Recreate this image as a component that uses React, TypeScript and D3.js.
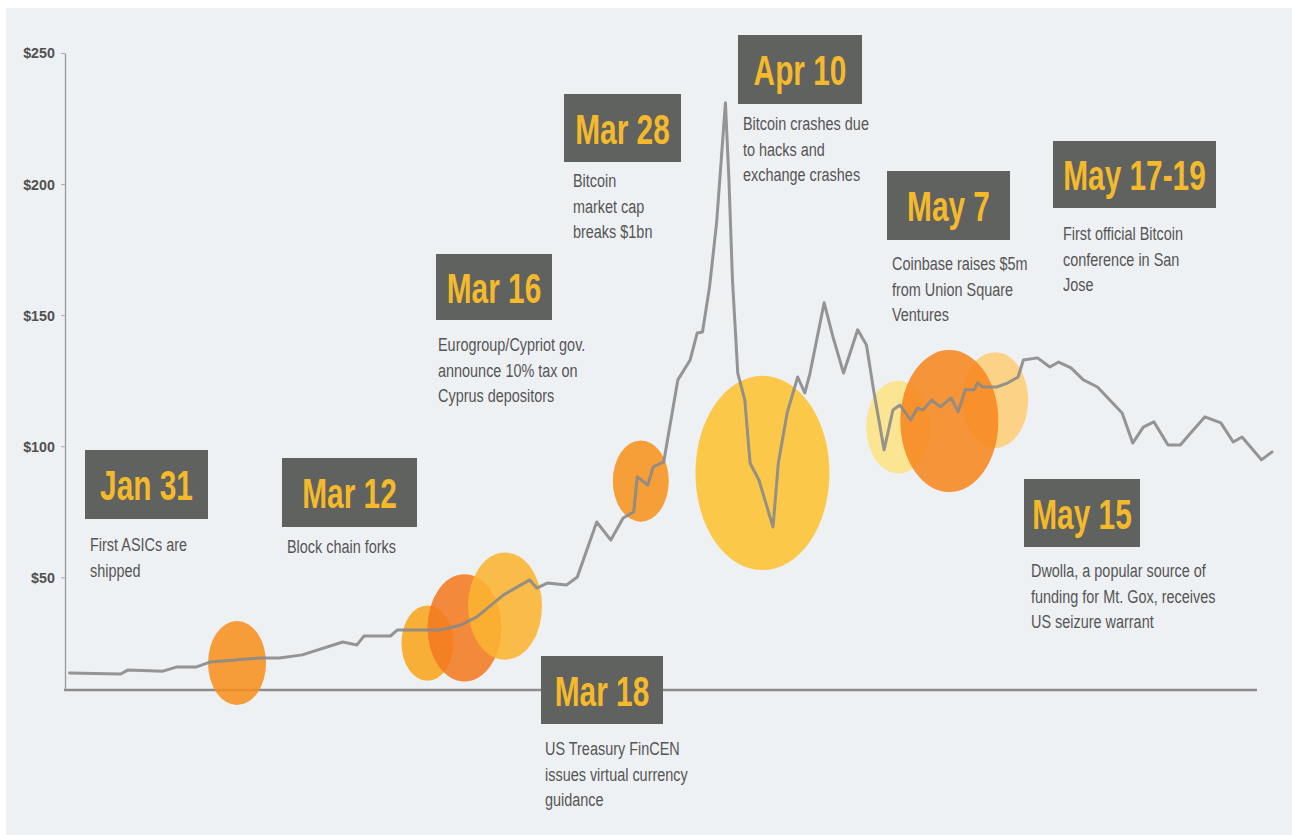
import React from "react";
import * as d3 from "d3";

// ---------- DATA ----------
const priceDates = [
  "2013-01-06T12:00", "2013-01-13T18:00", "2013-01-14T18:00", "2013-01-19T18:00", "2013-01-21T18:00",
  "2013-01-24T12:00", "2013-01-26T12:00", "2013-02-02T12:00", "2013-02-05T06:00", "2013-02-08T12:00",
  "2013-02-14T06:00", "2013-02-16T06:00", "2013-02-17T06:00", "2013-02-21T00:00", "2013-02-22T00:00",
  "2013-02-28T00:00", "2013-03-03T00:00", "2013-03-05T06:00", "2013-03-09T00:00", "2013-03-11T12:00",
  "2013-03-12T18:00", "2013-03-13T18:00", "2013-03-15T06:00", "2013-03-18T00:00", "2013-03-19T12:00",
  "2013-03-22T06:00", "2013-03-24T06:00", "2013-03-26T00:00", "2013-03-27T12:00", "2013-03-28T00:00",
  "2013-03-29T12:00", "2013-03-30T06:00", "2013-03-31T18:00", "2013-04-02T18:00", "2013-04-04T12:00",
  "2013-04-05T12:00", "2013-04-06T06:00", "2013-04-07T06:00", "2013-04-08T06:00", "2013-04-09T12:00",
  "2013-04-10T00:00", "2013-04-10T12:00", "2013-04-11T06:00", "2013-04-12T06:00", "2013-04-13T00:00",
  "2013-04-14T06:00", "2013-04-16T06:00", "2013-04-17T00:00", "2013-04-18T06:00", "2013-04-19T18:00",
  "2013-04-20T18:00", "2013-04-21T12:00", "2013-04-23T12:00", "2013-04-24T18:00", "2013-04-26T06:00",
  "2013-04-28T06:00", "2013-04-29T12:00", "2013-04-30T12:00", "2013-05-02T00:00", "2013-05-03T06:00",
  "2013-05-04T06:00", "2013-05-05T18:00", "2013-05-06T18:00", "2013-05-07T12:00", "2013-05-08T18:00",
  "2013-05-10T00:00", "2013-05-11T12:00", "2013-05-12T12:00", "2013-05-13T12:00", "2013-05-14T18:00",
  "2013-05-15T06:00", "2013-05-16T00:00", "2013-05-18T00:00", "2013-05-19T12:00", "2013-05-21T00:00",
  "2013-05-21T18:00", "2013-05-23T18:00", "2013-05-25T12:00", "2013-05-26T18:00", "2013-05-28T12:00",
  "2013-05-30T06:00", "2013-06-01T06:00", "2013-06-03T00:00", "2013-06-04T18:00", "2013-06-06T06:00",
  "2013-06-07T18:00", "2013-06-09T06:00", "2013-06-11T06:00", "2013-06-13T00:00", "2013-06-14T12:00",
  "2013-06-16T12:00", "2013-06-18T18:00", "2013-06-20T12:00", "2013-06-21T18:00", "2013-06-24T12:00",
  "2013-06-26T00:00",
];
const prices = [
  13.5, 13.1, 14.6, 14.2, 15.8,
  15.8, 17.7, 19.2, 19.2, 20.4,
  25.3, 24.2, 27.6, 27.6, 29.9,
  29.9, 31.8, 34.9, 43.2, 47.1,
  49.0, 45.9, 47.8, 47.1, 50.1,
  71.1, 64.2, 72.6, 74.9, 88.3,
  85.2, 92.1, 94.0, 125.3, 132.9,
  143.2, 143.6, 160.8, 185.2, 231.0,
  201.6, 163.4, 127.9, 117.6, 93.5,
  87.1, 69.2, 93.5, 112.7, 126.4,
  120.3, 127.9, 154.7, 141.7, 127.9,
  144.4, 138.6, 121.5, 98.6, 113.8,
  115.7, 110.0, 114.6, 113.8, 117.6,
  115.0, 118.4, 113.1, 121.5, 121.5,
  124.1, 122.6, 122.6, 124.1, 126.4,
  132.9, 133.7, 130.2, 132.1, 129.9,
  125.3, 122.6, 117.6, 112.7, 101.2,
  107.3, 109.3, 100.5, 100.5, 105.1,
  111.2, 108.9, 101.6, 103.5, 94.8,
  97.8,
];

const yTicks = [50, 100, 150, 200, 250];

const bubbleDates = [
  "2013-01-30T06:00", "2013-02-26T06:00", "2013-03-03T12:00", "2013-03-09T06:00",
  "2013-03-28T12:00", "2013-04-14T18:00", "2013-05-04T00:00", "2013-05-17T18:00", "2013-05-11T06:00",
];
const bubblePrices = [17.3, 24.9, 30.7, 39.0, 86.7, 89.8, 107.3, 117.6, 109.6];
const bubbleMagnitudes = [29, 26, 37, 37, 28, 67, 32, 33, 49];

const eventDates = ["Jan 31", "Mar 12", "Mar 16", "Mar 18", "Mar 28", "Apr 10", "May 7", "May 17-19", "May 15"];
const eventTexts = [
  ["First ASICs are", "shipped"],
  ["Block chain forks"],
  ["Eurogroup/Cypriot gov.", "announce 10% tax on", "Cyprus depositors"],
  ["US Treasury FinCEN", "issues virtual currency", "guidance"],
  ["Bitcoin", "market cap", "breaks $1bn"],
  ["Bitcoin crashes due", "to hacks and", "exchange crashes"],
  ["Coinbase raises $5m", "from Union Square", "Ventures"],
  ["First official Bitcoin", "conference in San", "Jose"],
  ["Dwolla, a popular source of", "funding for Mt. Gox, receives", "US seizure warrant"],
];

// ---------- LAYOUT / STYLE ----------
const W = 1292;
const H = 835;
const bubbleColors = ["#F7901E", "#F9A51E", "#F47A20", "#FCB431", "#F7921E", "#FDC231", "#FDE184", "#FDCD76", "#F7861F"];
const boxLayout = [
  { x: 85, y: 450, w: 123, h: 69, tx: 90, ty: 551 },
  { x: 282, y: 458, w: 135, h: 69, tx: 287, ty: 553 },
  { x: 436, y: 254, w: 116, h: 66, tx: 438, ty: 351 },
  { x: 541, y: 656, w: 122, h: 68, tx: 545, ty: 755 },
  { x: 564, y: 94, w: 117, h: 68, tx: 573, ty: 187 },
  { x: 738, y: 35, w: 124, h: 69, tx: 743, ty: 130 },
  { x: 887, y: 171, w: 123, h: 69, tx: 892, ty: 270 },
  { x: 1053, y: 141, w: 163, h: 67, tx: 1063, ty: 240 },
  { x: 1024, y: 479, w: 116, h: 68, tx: 1031, ty: 577 },
];
const FONT = "'Liberation Sans', Arial, Helvetica, sans-serif";

export default function App() {
  const parse = d3.timeParse("%Y-%m-%dT%H:%M");
  const x = d3
    .scaleTime()
    .domain([parse("2013-01-06T00:00")!, parse("2013-06-26T00:00")!])
    .range([66, 1272]);
  const y = d3.scaleLinear().domain([7, 250]).range([690, 53]);
  const rScale = d3.scaleLinear().domain([0, 1]).range([0, 1]);
  const ASPECT = 1.45;

  const series = priceDates.map((d, i) => ({ date: parse(d)!, price: prices[i] }));
  const line = d3
    .line<{ date: Date; price: number }>()
    .x((d) => x(d.date))
    .y((d) => y(d.price));

  const bubbles = bubbleDates.map((d, i) => ({
    cx: x(parse(d)!),
    cy: y(bubblePrices[i]),
    r: rScale(bubbleMagnitudes[i]),
    color: bubbleColors[i],
  }));

  const axisRef = React.useRef<SVGGElement>(null);
  React.useEffect(() => {
    if (!axisRef.current) return;
    const g = d3.select(axisRef.current);
    g.selectAll("*").remove();
    g.call(
      d3
        .axisLeft(y)
        .tickValues(yTicks)
        .tickSize(4)
        .tickSizeOuter(0)
        .tickPadding(6)
        .tickFormat((d) => `$${d}`)
    );
    g.select(".domain").attr("stroke", "#9a9a9a").attr("stroke-width", 1.3);
    g.selectAll(".tick line").attr("stroke", "#aaa");
    g.selectAll(".tick text")
      .attr("fill", "#505050")
      .attr("font-size", 15.5)
      .attr("font-weight", 700)
      .attr("font-family", FONT)
      .attr("transform", "scale(0.92,1)")
      .attr("x", -11);
  }, []);

  return (
    <svg
      width={W}
      height={H}
      style={{ position: "fixed", left: 0, top: 0, background: "#ffffff" }}
      fontFamily={FONT}
    >
      <rect x={6} y={8} width={W - 6} height={H - 8} fill="#EEF1F4" />

      <g ref={axisRef} transform="translate(65,0)" />
      <line x1={64} x2={1257} y1={690} y2={690} stroke="#8c8c8c" strokeWidth={2.5} />

      {bubbles.map((b, i) => (
        <ellipse
          key={i}
          cx={b.cx}
          cy={b.cy}
          rx={b.r}
          ry={b.r * ASPECT}
          fill={b.color}
          fillOpacity={0.88}
        />
      ))}

      <path
        d={line(series) || ""}
        fill="none"
        stroke="#8a8a8a"
        strokeOpacity={0.9}
        strokeWidth={3}
        strokeLinejoin="round"
        strokeLinecap="round"
      />

      {boxLayout.map((b, i) => (
        <g key={i}>
          <rect x={b.x} y={b.y} width={b.w} height={b.h} fill="#5F625F" />
          <text
            transform={`translate(${b.x + b.w / 2},${b.y + b.h / 2 + 15.5}) scale(0.71,1)`}
            textAnchor="middle"
            fontSize={42}
            fontWeight={700}
            fill="#F5B92C"
          >
            {eventDates[i]}
          </text>
          {eventTexts[i].map((t, j) => (
            <text
              key={j}
              transform={`translate(${b.tx},${b.ty + j * 25.5}) scale(0.76,1)`}
              fontSize={19}
              fill="#555555"
            >
              {t}
            </text>
          ))}
        </g>
      ))}
    </svg>
  );
}
